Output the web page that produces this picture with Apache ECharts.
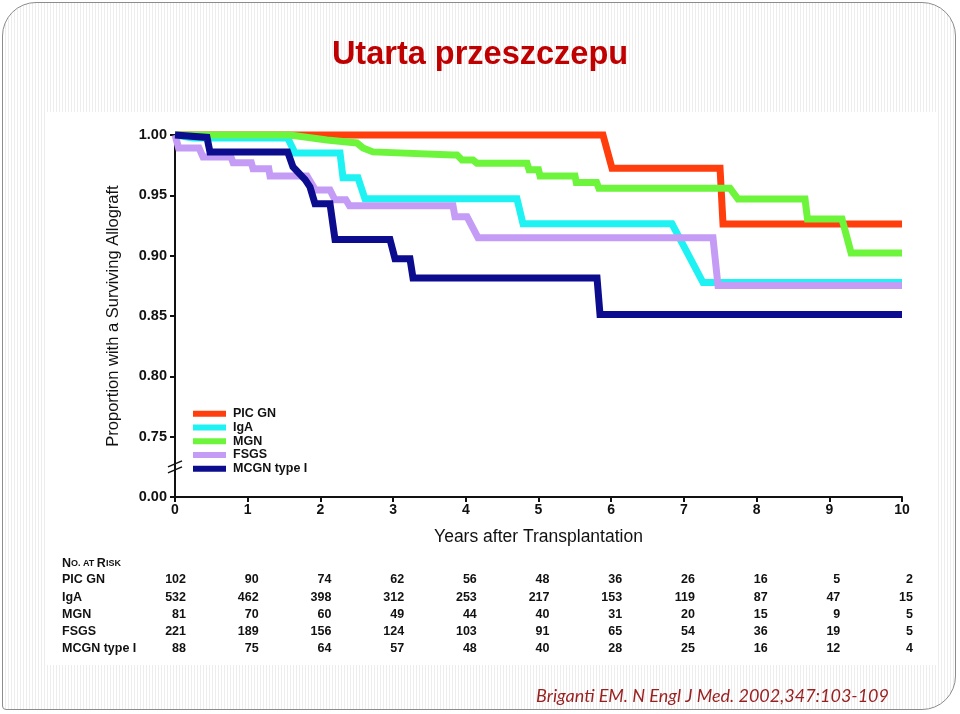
<!DOCTYPE html>
<html><head><meta charset="utf-8">
<script src="https://cdn.jsdelivr.net/npm/echarts@6/dist/echarts.min.js"></script>
<style>
html,body{margin:0;padding:0;width:960px;height:714px;overflow:hidden;background:#fff;}
#frame{position:absolute;left:2px;top:2px;width:952px;height:706px;border:1.5px solid #8c8c8c;border-radius:34px 34px 34px 4px;
 background:repeating-linear-gradient(90deg,#ffffff 0px,#ffffff 2px,#ededed 2px,#ededed 3px);}
#paper{position:absolute;left:47px;top:112px;width:890px;height:553px;background:#fff;}
#chart{position:absolute;left:0;top:0;width:960px;height:714px;}
</style></head>
<body>
<div id="frame"></div>
<div id="paper"></div>
<div id="chart"></div>
<script>
// ---- data ----
const seriesNames = ['PIC GN', 'IgA', 'MGN', 'FSGS', 'MCGN type I'];
const seriesColors = ['#ff3d0d', '#1ef2f2', '#6cf53a', '#c49cf6', '#0c0c8e'];

const picGN = [[0,1],[5.887,1],[6.011,0.9725],[7.497,0.9725],[7.538,0.9262],[10,0.9262]];
const igA = [[0,1],[0.25,0.9975],[1.55,0.9975],[1.651,0.9851],[2.27,0.9851],[2.311,0.9645],[2.517,0.9645],[2.613,0.9471],
  [4.704,0.9471],[4.787,0.9264],[6.836,0.9264],[7.263,0.8777],[10,0.8777]];
const mgn = [[0,1],[1.58,1],[2.091,0.9959],[2.503,0.9934],[2.586,0.9893],[2.723,0.9860],[3.824,0.9835],[3.879,0.9835],
  [3.948,0.9793],[4.099,0.9793],[4.154,0.9766],[4.842,0.9766],[4.87,0.9711],[5.0,0.9711],[5.021,0.9661],[5.502,0.9661],
  [5.52,0.9606],[5.80,0.9606],[5.83,0.9559],[7.634,0.9559],[7.744,0.9469],[8.666,0.9469],[8.70,0.9303],[9.175,0.9303],
  [9.30,0.9022],[10,0.9022]];
const fsgs = [[0,1],[0.05,0.9893],[0.33,0.9893],[0.385,0.9818],[0.77,0.9818],[0.80,0.9769],[1.05,0.9769],[1.073,0.972],
  [1.29,0.972],[1.307,0.966],[1.816,0.966],[1.93,0.9545],[2.132,0.9545],[2.20,0.9463],[2.35,0.9463],[2.40,0.9413],
  [3.824,0.9413],[3.851,0.9322],[4.017,0.9322],[4.168,0.9149],[7.40,0.9149],[7.469,0.8752],[10,0.8752]];
const mcgn = [[0,1],[0.44,0.998],[0.481,0.986],[1.55,0.986],[1.623,0.9736],[1.79,0.963],[1.857,0.957],[1.926,0.943],
  [2.132,0.943],[2.201,0.9135],[2.957,0.9135],[3.026,0.8975],[3.232,0.8975],[3.274,0.8815],[5.805,0.8815],[5.846,0.8512],[10,0.8512]];
const seriesData = [picGN, igA, mgn, fsgs, mcgn];

const yTickLabels = ['0.00','0.75','0.80','0.85','0.90','0.95','1.00'];

const riskYears = [0,1,2,3,4,5,6,7,8,9,10];
const riskPIC  = [102,90,74,62,56,48,36,26,16,5,2];
const riskIgA  = [532,462,398,312,253,217,153,119,87,47,15];
const riskMGN  = [81,70,60,49,44,40,31,20,15,9,5];
const riskFSGS = [221,189,156,124,103,91,65,54,36,19,5];
const riskMCGN = [88,75,64,57,48,40,28,25,16,12,4];
const riskRows = [riskPIC, riskIgA, riskMGN, riskFSGS, riskMCGN];

// ---- chart ----
const FONT = 'Liberation Sans, Arial, Helvetica, sans-serif';
const chart = echarts.init(document.getElementById('chart'), null, {renderer:'canvas'});
const option = {
  backgroundColor: 'transparent',
  animation: false,
  title: {
    text: 'Utarta przeszczepu', left: 'center', top: 34,
    textStyle: {color:'#c00000', fontSize: 32.5, fontWeight:'bold', fontFamily:'Liberation Sans Narrow, Arial Narrow, Liberation Sans, sans-serif'}
  },
  grid: {left:175, right:58, top:135, bottom:217, containLabel:false},
  legend: {
    orient:'vertical', left:188, top:402, icon:'rect', itemWidth:33, itemHeight:6, itemGap:0,
    data: seriesNames,
    textStyle:{fontFamily:FONT, fontSize:12.5, fontWeight:'bold', color:'#111', lineHeight:13.7, padding:[0,0,0,2]}
  },
  xAxis: {
    type:'value', min:0, max:10, interval:1,
    name:'Years after Transplantation', nameLocation:'middle', nameGap:31,
    nameTextStyle:{fontFamily:FONT, fontSize:17.5, color:'#111'},
    axisLine:{lineStyle:{color:'#111', width:2}},
    axisTick:{inside:false, length:5, lineStyle:{color:'#111', width:2}},
    axisLabel:{fontFamily:FONT, fontSize:14, fontWeight:'bold', color:'#111', margin:6},
    splitLine:{show:false}
  },
  yAxis: {
    type:'value', min:0.70, max:1.00, interval:0.05,
    name:'Proportion with a Surviving Allograft', nameLocation:'middle', nameGap:53,
    nameTextStyle:{fontFamily:FONT, fontSize:16.5, color:'#111'},
    axisLine:{lineStyle:{color:'#111', width:2}},
    axisTick:{inside:false, length:5, lineStyle:{color:'#111', width:2}},
    axisLabel:{fontFamily:FONT, fontSize:14.5, fontWeight:'bold', color:'#111', margin:8,
      formatter:(v, i) => yTickLabels[i] !== undefined ? yTickLabels[i] : v.toFixed(2)},
    splitLine:{show:false}
  },
  series: seriesNames.map((n, i) => ({
    name:n, type:'line', data:seriesData[i], showSymbol:false, symbol:'none', clip:false,
    color:seriesColors[i],
    lineStyle:{width:7, color:seriesColors[i], cap:'butt', join:'miter'},
    emphasis:{disabled:true}
  }))
};
chart.setOption(option);

// axis break mark and risk table placed from the axes
const g = [];
const bp = chart.convertToPixel({xAxisIndex:0, yAxisIndex:0}, [0, 0.725]);
[-3, 3].forEach(d => {
  g.push({type:'line', shape:{x1:bp[0]-7, y1:bp[1]+d+3, x2:bp[0]+7, y2:bp[1]+d-3},
    style:{stroke:'#111', lineWidth:1.5}, z:10});
});
g.push({type:'text', left:62, top:557, style:{
  text:'{b|N}{s|O. AT }{b|R}{s|ISK}', fill:'#111',
  rich:{b:{fontFamily:FONT, fontSize:12.5, fontWeight:'bold', fill:'#111'}, s:{fontFamily:FONT, fontSize:9, fontWeight:'bold', fill:'#111'}}
}});
const rowY = [580, 597.5, 615, 632, 649];
riskRows.forEach((row, r) => {
  g.push({type:'text', style:{text:seriesNames[r], x:62, y:rowY[r], textVerticalAlign:'middle', textAlign:'left',
    font:'bold 12.5px ' + FONT, fill:'#111'}});
  row.forEach((v, c) => {
    const px = chart.convertToPixel({xAxisIndex:0}, riskYears[c]);
    g.push({type:'text', style:{text:String(v), x:px+11, y:rowY[r], textVerticalAlign:'middle', textAlign:'right',
      font:'bold 12.5px ' + FONT, fill:'#111'}});
  });
});
g.push({type:'text', style:{text:'Briganti EM. N Engl J Med. 2002,347:103-109', x:889, y:696, textAlign:'right', textVerticalAlign:'middle',
  font:'italic 18px Lato, Open Sans, sans-serif', fill:'#9a1f1f'}});
chart.setOption({graphic:g});
</script>
</body></html>
